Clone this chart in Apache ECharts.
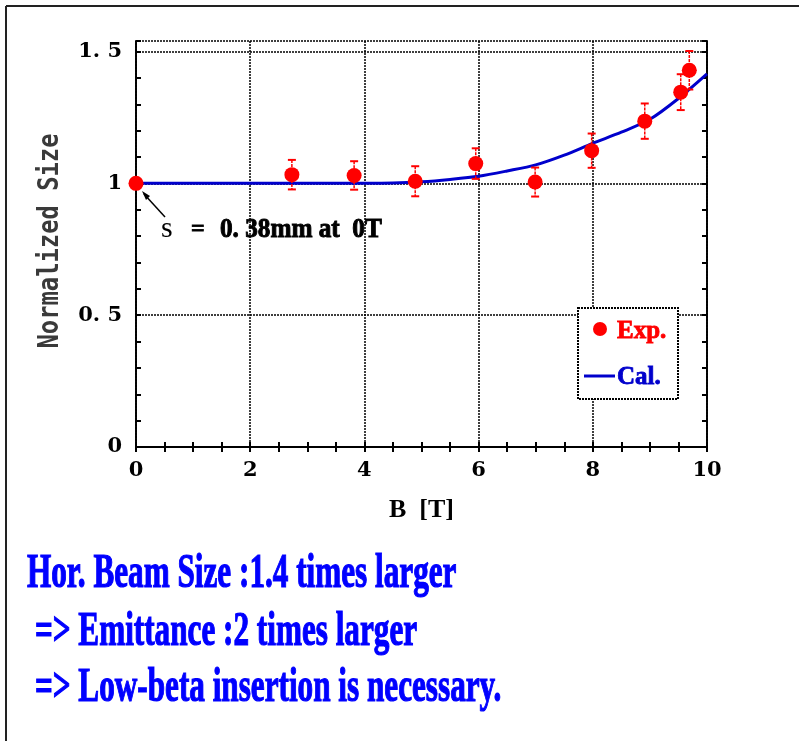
<!DOCTYPE html>
<html>
<head>
<meta charset="utf-8">
<title>Normalized Size vs B</title>
<script src="https://cdn.jsdelivr.net/npm/echarts@6/dist/echarts.min.js"></script>
<style>
html, body { margin: 0; padding: 0; background: #fff; }
#chart { width: 799px; height: 741px; }
</style>
</head>
<body>
<div id="chart"></div>
<script>
// measured beam size (Exp.)
var expB = [0, 2.73, 3.82, 4.89, 5.95, 6.99, 7.98, 8.91, 9.54, 9.69];
var expSize = [1.0, 1.033, 1.03, 1.008, 1.075, 1.005, 1.124, 1.236, 1.346, 1.429];
var expErr = [0, 0.056, 0.054, 0.057, 0.058, 0.055, 0.065, 0.067, 0.068, 0.073];

// calculated curve (Cal.)
var calB = [0, 1, 2, 3, 4, 4.5, 5, 5.5, 6, 6.5, 7, 7.5, 8, 8.5, 9, 9.5, 10];
var calSize = [1, 1, 1, 1, 1, 1.001, 1.006, 1.015, 1.027, 1.047, 1.07, 1.107, 1.152, 1.194, 1.243, 1.322, 1.415];

var textLines = [
    'Hor. Beam Size :1.4 times larger',
    '=> Emittance :2 times larger',
    '=> Low-beta insertion is necessary.'
];

var serif = '"DejaVu Serif"';
var times = '"Liberation Serif"';
var frame = { color: '#000', width: 2, type: [2, 1] };

var expData = expB.map(function (b, i) { return [b, expSize[i]]; });
var calData = calB.map(function (b, i) { return [b, calSize[i]]; });
var errData = [];
expB.forEach(function (b, i) {
    if (expErr[i] > 0) errData.push([b, expSize[i] - expErr[i], expSize[i] + expErr[i]]);
});

var myChart = echarts.init(document.getElementById('chart'));

var graphics = [
    // page frame (left + top)
    { type: 'line', shape: { x1: 6, y1: 6, x2: 6, y2: 741 }, style: { stroke: '#222', lineWidth: 2 } },
    { type: 'line', shape: { x1: 6, y1: 6, x2: 799, y2: 6 }, style: { stroke: '#222', lineWidth: 2 } },
    // y axis name
    {
        type: 'text', x: 51, y: 241, rotation: Math.PI / 2, scaleX: 0.85,
        style: { text: 'Normalized Size', font: 'bold 28px "DejaVu Sans Mono"', fill: '#3a3a3a', align: 'center', verticalAlign: 'middle' }
    },
    // annotation
    { type: 'line', shape: { x1: 165, y1: 217, x2: 144, y2: 194 }, style: { stroke: '#000', lineWidth: 1.5 } },
    { type: 'polygon', shape: { points: [[142, 191], [150, 196], [146, 200]] }, style: { fill: '#000' } },
    { type: 'text', x: 161, y: 229, style: { text: 's', font: '30px ' + times, fill: '#000', verticalAlign: 'middle' } },
    { type: 'text', x: 191, y: 230, style: { text: '=', font: 'bold 24px ' + times, fill: '#000', stroke: '#000', lineWidth: 0.8, verticalAlign: 'middle' } },
    { type: 'text', x: 220, y: 230, scaleX: 0.9, style: { text: '0. 38mm at  0T', font: 'bold 28px ' + times, fill: '#000', stroke: '#000', lineWidth: 1, verticalAlign: 'middle' } },
    // legend
    { type: 'rect', shape: { x: 578, y: 308, width: 100, height: 91 }, style: { fill: '#fff', stroke: '#000', lineWidth: 2, lineDash: [2, 1] } },
    { type: 'circle', shape: { cx: 600, cy: 329, r: 7 }, style: { fill: '#ff0000' } },
    { type: 'text', x: 617, y: 332, style: { text: 'Exp.', font: 'bold 25px ' + times, fill: '#ff0000', stroke: '#ff0000', lineWidth: 0.8, verticalAlign: 'middle' } },
    { type: 'line', shape: { x1: 584, y1: 376, x2: 615, y2: 376 }, style: { stroke: '#0000cc', lineWidth: 3 } },
    { type: 'text', x: 617, y: 378, style: { text: 'Cal.', font: 'bold 25px ' + times, fill: '#0000cc', stroke: '#0000cc', lineWidth: 0.8, verticalAlign: 'middle' } }
];
var lineX = [27, 35, 35];
var lineY = [575, 633, 689];
textLines.forEach(function (t, i) {
    graphics.push({
        type: 'text', x: lineX[i], y: lineY[i], scaleX: 0.65,
        style: { text: t, font: 'bold 48px ' + times, fill: '#0000ff', stroke: '#0000ff', lineWidth: 1.2, verticalAlign: 'middle' }
    });
});
graphics.forEach(function (g) { g.z = 100; });

myChart.setOption({
    backgroundColor: '#fff',
    animation: false,
    grid: { left: 136, right: 92, top: 41, bottom: 294 },
    xAxis: [{
        type: 'value', position: 'bottom', min: 0, max: 10, interval: 2,
        name: 'B  [T]', nameLocation: 'middle', nameGap: 50,
        nameTextStyle: { fontFamily: times, fontWeight: 'bold', fontSize: 26, color: '#000' },
        axisLine: { show: true, lineStyle: frame },
        axisTick: { show: true, inside: true, length: 5, lineStyle: { color: '#000', width: 2 } },
        minorTick: { show: true, splitNumber: 4, length: 5, lineStyle: { color: '#000', width: 2 } },
        axisLabel: { margin: 13, fontFamily: serif, fontWeight: 'bold', fontSize: 21, color: '#000' },
        splitLine: { show: true, lineStyle: { color: '#000', width: 1.5, type: [2, 1] } }
    }, {
        type: 'value', position: 'top', min: 0, max: 10, interval: 2,
        axisLine: { show: true, lineStyle: frame },
        axisTick: { show: true, inside: true, length: 5, lineStyle: { color: '#000', width: 2 } },
        minorTick: { show: true, splitNumber: 4, length: 5, lineStyle: { color: '#000', width: 2 } },
        axisLabel: { show: false },
        splitLine: { show: false }
    }],
    yAxis: [{
        type: 'value', position: 'left', min: 0, max: 1.54, interval: 0.5,
        axisLine: { show: true, lineStyle: frame },
        axisTick: { show: false },
        axisLabel: {
            margin: 14, showMaxLabel: false, fontFamily: serif, fontWeight: 'bold', fontSize: 21, color: '#000',
            formatter: function (v) { return String(v).replace('.', '. '); }
        },
        splitLine: { show: true, lineStyle: { color: '#000', width: 1.5, type: [2, 1] } }
    }, {
        type: 'value', position: 'left', offset: 0, min: 0, max: 1.54, interval: 0.1,
        axisLine: { show: false },
        axisTick: { show: true, inside: true, length: 5, lineStyle: { color: '#000', width: 2 } },
        axisLabel: { show: false },
        splitLine: { show: false }
    }, {
        type: 'value', position: 'right', offset: 0, min: 0, max: 1.54, interval: 0.1,
        axisLine: { show: true, lineStyle: frame },
        axisTick: { show: true, inside: true, length: 5, lineStyle: { color: '#000', width: 2 } },
        axisLabel: { show: false },
        splitLine: { show: false }
    }],
    series: [{
        name: 'Cal.',
        type: 'line',
        data: calData,
        smooth: 0.3,
        symbol: 'none',
        lineStyle: { color: '#0000cc', width: 3 },
        z: 3
    }, {
        name: 'err',
        type: 'custom',
        data: errData,
        renderItem: function (params, api) {
            var x = api.value(0);
            var top = api.coord([x, api.value(2)]);
            var bot = api.coord([x, api.value(1)]);
            var w = 4;
            var st = { stroke: '#ff0000', lineWidth: 2 };
            return {
                type: 'group',
                children: [
                    { type: 'line', shape: { x1: top[0], y1: top[1], x2: bot[0], y2: bot[1] }, style: { stroke: '#ff0000', lineWidth: 1.5, lineDash: [3, 1] } },
                    { type: 'line', shape: { x1: top[0] - w, y1: top[1], x2: top[0] + w, y2: top[1] }, style: st },
                    { type: 'line', shape: { x1: bot[0] - w, y1: bot[1], x2: bot[0] + w, y2: bot[1] }, style: st }
                ]
            };
        },
        z: 4
    }, {
        name: 'Exp.',
        type: 'scatter',
        data: expData,
        symbolSize: 15,
        itemStyle: { color: '#ff0000', opacity: 1 },
        z: 5
    }],
    graphic: graphics
});
</script>
</body>
</html>
